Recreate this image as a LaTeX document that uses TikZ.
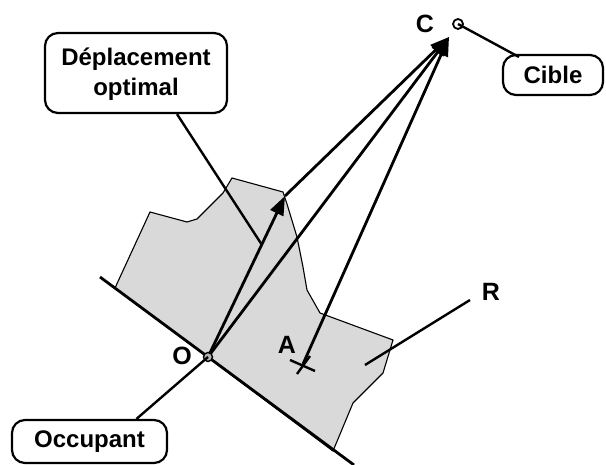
\documentclass[tikz,border=0pt]{standalone}
\usepackage{fontspec}
\setmainfont{Liberation Sans}
\usetikzlibrary{arrows.meta}
\begin{document}
\begin{tikzpicture}[x=1pt,y=-1pt,
  mainline/.style={line width=2.8pt},
  leader/.style={line width=2.4pt},
  callout/.style={draw,line width=2.2pt,rounded corners=13pt,inner sep=0pt,align=center,
    font=\bfseries\fontsize{24}{30}\selectfont},
  lbl/.style={inner sep=0pt,font=\bfseries\fontsize{25}{25}\selectfont},
  arr/.style={-{Triangle[length=19pt,width=14pt]}},
  region/.style={fill=gray!30,draw=black,line width=1.1pt}]
\useasboundingbox (0,0) rectangle (606,465);
% region R
\draw[region] (115,288) -- (150,212) -- (187,222) -- (197,219) -- (223,193) -- (232,178)
  -- (283,192) -- (287,204) -- (297,237) -- (303,267) -- (307,290) -- (320,313)
  -- (393,340) -- (383,373) -- (353,403) -- (333,451) -- cycle;
% coordinates
\coordinate (O) at (208,357);
\coordinate (P) at (285,196);
\coordinate (Ct) at (449,37);
\coordinate (Cc) at (458,24);
\coordinate (A) at (303,364);
\coordinate (L1) at (100,277);
\coordinate (L2) at (354,465);
\coordinate (Rl) at (470,300);
\coordinate (Rr) at (365,365);
\coordinate (Dl) at (262,245);
\coordinate (Cb) at (519,57);
% boundary line
\draw[mainline] (L1) -- (L2);
% paths
\draw[mainline,arr] (O) -- (P);
\draw[mainline,arr] (P) -- (Ct);
\draw[mainline,arr] (O) -- (Ct);
\draw[mainline,arr] (A) -- (Ct);
% target circle
\draw[line width=1.8pt,fill=white] (Cc) circle (5);
% occupant marker
\draw[line width=1.4pt,fill=gray!60] (O) circle (4.5);
% A cross
\draw[line width=2.4pt] (290,360) -- (315,371);
\draw[line width=2.4pt] (297,374) -- (310,356);
% callouts
\node[callout,minimum width=182pt,minimum height=80pt] (dep) at (136,73) {};
\node[inner sep=0pt,font=\bfseries\fontsize{24}{30}\selectfont,align=center] (deptxt) at (136,74) {Déplacement\\optimal};
\node[callout,minimum width=100pt,minimum height=40pt] (cible) at (553,75) {Cible};
\node[callout,minimum width=155pt,minimum height=43pt] (occ) at (89.5,441.5) {Occupant};
% leaders
\draw[leader] (dep.south) ++(41,0) coordinate (ds) -- (Dl);
\draw[leader] (Cc) -- (Cb);
\draw[leader] (occ.north) ++(47,0) coordinate (os) -- (O);
\draw[leader] (Rl) -- (Rr);
% labels
\node[lbl] (lC) at (425,24) {C};
\node[lbl] (lO) at (182,356) {O};
\node[lbl] (lA) at (287,345) {A};
\node[lbl] (lR) at (491,292) {R};
\end{tikzpicture}
\end{document}
